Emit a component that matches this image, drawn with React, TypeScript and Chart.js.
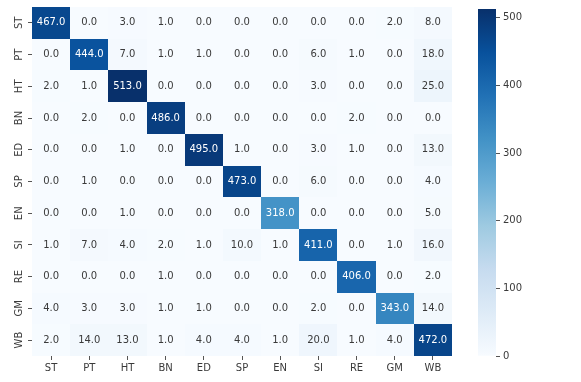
import React, { useEffect, useRef } from 'react';
import { Chart, registerables } from 'chart.js';

Chart.register(...registerables);

const classLabels = ['ST', 'PT', 'HT', 'BN', 'ED', 'SP', 'EN', 'SI', 'RE', 'GM', 'WB'];

const rowST = [467, 0, 3, 1, 0, 0, 0, 0, 0, 2, 8];
const rowPT = [0, 444, 7, 1, 1, 0, 0, 6, 1, 0, 18];
const rowHT = [2, 1, 513, 0, 0, 0, 0, 3, 0, 0, 25];
const rowBN = [0, 2, 0, 486, 0, 0, 0, 0, 2, 0, 0];
const rowED = [0, 0, 1, 0, 495, 1, 0, 3, 1, 0, 13];
const rowSP = [0, 1, 0, 0, 0, 473, 0, 6, 0, 0, 4];
const rowEN = [0, 0, 1, 0, 0, 0, 318, 0, 0, 0, 5];
const rowSI = [1, 7, 4, 2, 1, 10, 1, 411, 0, 1, 16];
const rowRE = [0, 0, 0, 1, 0, 0, 0, 0, 406, 0, 2];
const rowGM = [4, 3, 3, 1, 1, 0, 0, 2, 0, 343, 14];
const rowWB = [2, 14, 13, 1, 4, 4, 1, 20, 1, 4, 472];

const confusionRows = [rowST, rowPT, rowHT, rowBN, rowED, rowSP, rowEN, rowSI, rowRE, rowGM, rowWB];

const colorbarTicks = [0, 100, 200, 300, 400, 500];
const colorMin = 0;
const colorMax = 513;

// matplotlib "Blues" colormap control points
const bluesStops: [number, number[]][] = [
  [0.0, [247, 251, 255]],
  [0.125, [222, 235, 247]],
  [0.25, [198, 219, 239]],
  [0.375, [158, 202, 225]],
  [0.5, [107, 174, 214]],
  [0.625, [66, 146, 198]],
  [0.75, [33, 113, 181]],
  [0.875, [8, 81, 156]],
  [1.0, [8, 48, 107]],
];

function rgbAt(v: number): number[] {
  let t = (v - colorMin) / (colorMax - colorMin);
  t = Math.max(0, Math.min(1, t));
  for (let i = 0; i < bluesStops.length - 1; i++) {
    const [t0, c0] = bluesStops[i];
    const [t1, c1] = bluesStops[i + 1];
    if (t >= t0 && t <= t1) {
      const f = (t - t0) / (t1 - t0);
      return c0.map((c, k) => c + (c1[k] - c) * f);
    }
  }
  return bluesStops[bluesStops.length - 1][1];
}

function cssRgb(c: number[]) {
  return `rgb(${Math.round(c[0])},${Math.round(c[1])},${Math.round(c[2])})`;
}

function luminance(c: number[]) {
  const lin = c.map((x) => {
    const s = x / 255;
    return s <= 0.03928 ? s / 12.92 : Math.pow((s + 0.055) / 1.055, 2.4);
  });
  return 0.2126 * lin[0] + 0.7152 * lin[1] + 0.0722 * lin[2];
}

const FONT = 'DejaVu Sans';
const TEXT_COLOR = '#3a3a3a';
const TICK_COLOR = '#555555';

const heatmapPlugin = {
  id: 'heatmapCells',
  beforeDatasetsDraw(chart: any) {
    const { ctx, scales } = chart;
    const xs = scales.x;
    const ys = scales.y;
    const n = classLabels.length;
    const cw = xs.width / n;
    const ch = ys.height / n;
    const meta = chart.getDatasetMeta(0);
    const data = chart.data.datasets[0].data;
    ctx.save();
    meta.data.forEach((pt: any, i: number) => {
      const d = data[i];
      const x0 = Math.round(pt.x - cw / 2);
      const x1 = Math.round(pt.x + cw / 2);
      const y0 = Math.round(pt.y - ch / 2);
      const y1 = Math.round(pt.y + ch / 2);
      ctx.fillStyle = cssRgb(rgbAt(d.v));
      ctx.fillRect(x0, y0, x1 - x0, y1 - y0);
    });
    ctx.restore();
  },
  afterDatasetsDraw(chart: any) {
    const { ctx } = chart;
    const meta = chart.getDatasetMeta(0);
    const data = chart.data.datasets[0].data;
    ctx.save();
    ctx.font = `10px "${FONT}"`;
    ctx.textAlign = 'center';
    ctx.textBaseline = 'middle';
    meta.data.forEach((pt: any, i: number) => {
      const d = data[i];
      const lum = luminance(rgbAt(d.v));
      ctx.fillStyle = lum > 0.408 ? TEXT_COLOR : '#ffffff';
      ctx.fillText(d.v.toFixed(1), pt.x, pt.y);
    });
    ctx.restore();
  },
};

export default function App() {
  const heatRef = useRef<HTMLCanvasElement>(null);
  const barRef = useRef<HTMLCanvasElement>(null);

  useEffect(() => {
    const cells: { x: string; y: string; v: number }[] = [];
    confusionRows.forEach((row, i) => {
      row.forEach((v, j) => cells.push({ x: classLabels[j], y: classLabels[i], v }));
    });

    const tickFont = { family: FONT, size: 10 };

    const heat = new Chart(heatRef.current!, {
      type: 'scatter',
      data: {
        datasets: [
          {
            data: cells as any,
            pointRadius: 0,
            pointHoverRadius: 0,
          },
        ],
      },
      options: {
        animation: false,
        responsive: false,
        events: [],
        layout: { padding: { top: 7, right: 18, left: 0, bottom: 0 } },
        plugins: { legend: { display: false }, tooltip: { enabled: false } },
        scales: {
          x: {
            type: 'category',
            labels: classLabels,
            offset: true,
            grid: { display: true, drawOnChartArea: false, drawTicks: true, tickLength: 4, color: TICK_COLOR, offset: false },
            border: { display: false },
            ticks: { color: TEXT_COLOR, font: tickFont, padding: 2, maxRotation: 0, autoSkip: false },
            afterFit: (s: any) => {
              s.height = 26;
            },
          },
          y: {
            type: 'category',
            labels: classLabels,
            offset: true,
            grid: { display: true, drawOnChartArea: false, drawTicks: true, tickLength: 4, color: TICK_COLOR, offset: false },
            border: { display: false },
            ticks: {
              color: TEXT_COLOR,
              font: tickFont,
              padding: 0,
              minRotation: 90,
              maxRotation: 90,
              crossAlign: 'center',
              autoSkip: false,
            },
            afterFit: (s: any) => {
              s.width = 32;
            },
          },
        },
      },
      plugins: [heatmapPlugin],
    } as any);

    const bar = new Chart(barRef.current!, {
      type: 'bar',
      data: {
        labels: ['colorbar'],
        datasets: [
          {
            data: [[colorMin, colorMax]] as any,
            borderWidth: 0,
            barPercentage: 1,
            categoryPercentage: 1,
            backgroundColor: (c: any) => {
              const { ctx, chartArea } = c.chart;
              if (!chartArea) return cssRgb(bluesStops[0][1]);
              const g = ctx.createLinearGradient(0, chartArea.bottom, 0, chartArea.top);
              bluesStops.forEach(([t, col]) => g.addColorStop(t, cssRgb(col)));
              return g;
            },
          },
        ],
      },
      options: {
        animation: false,
        responsive: false,
        events: [],
        layout: { padding: { top: 7, right: 0, left: 18, bottom: 26 } },
        plugins: { legend: { display: false }, tooltip: { enabled: false } },
        scales: {
          x: { display: false },
          y: {
            position: 'right',
            min: colorMin,
            max: colorMax,
            afterBuildTicks: (s: any) => {
              s.ticks = colorbarTicks.map((v) => ({ value: v }));
            },
            grid: { display: true, drawOnChartArea: false, drawTicks: true, tickLength: 4, color: TICK_COLOR },
            border: { display: false },
            ticks: { color: TEXT_COLOR, font: tickFont, padding: 3 },
            afterFit: (s: any) => {
              s.width = 85;
            },
          },
        },
      },
    } as any);

    return () => {
      heat.destroy();
      bar.destroy();
    };
  }, []);

  return (
    <div style={{ position: 'fixed', left: 0, top: 0, width: 581, height: 382, background: '#fff' }}>
      <canvas ref={heatRef} width={470} height={382} style={{ position: 'absolute', left: 0, top: 0 }} />
      <canvas ref={barRef} width={121} height={382} style={{ position: 'absolute', left: 460, top: 0 }} />
    </div>
  );
}
